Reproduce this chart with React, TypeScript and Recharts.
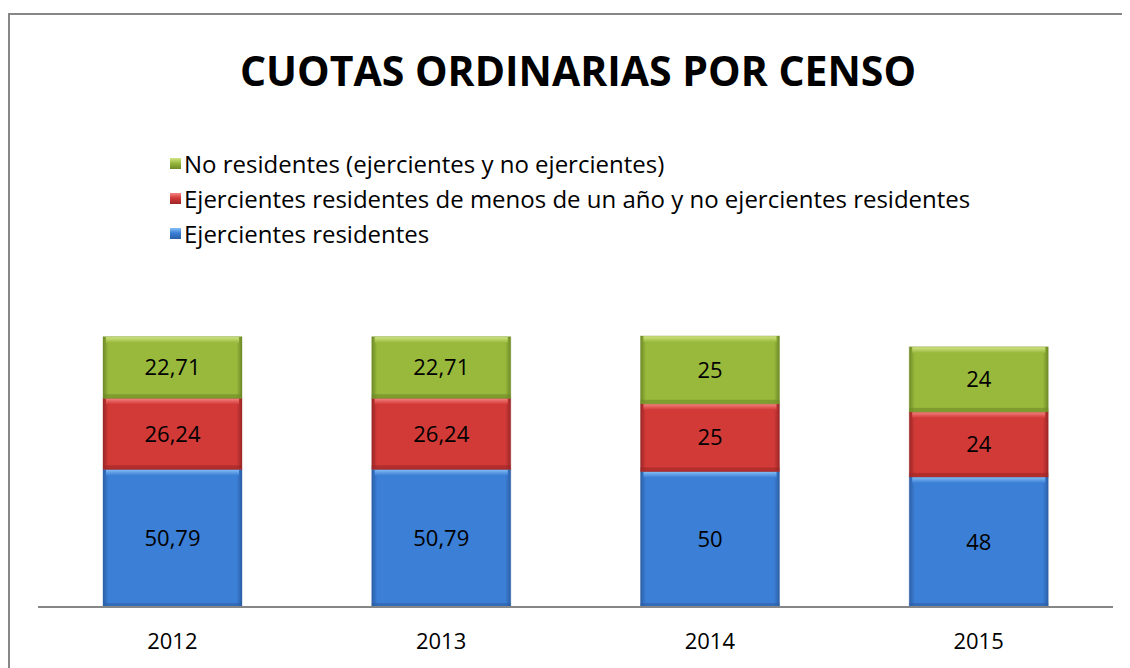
import { BarChart, Bar, XAxis, YAxis, LabelList } from 'recharts';

// Data
const years = ['2012', '2013', '2014', '2015'];
const ejercientesResidentes = [50.79, 50.79, 50, 48];
const menosDeUnAno = [26.24, 26.24, 25, 24];
const noResidentes = [22.71, 22.71, 25, 24];

const SERIES = [
  { key: 'ejr', name: 'Ejercientes residentes', main: '#3c7fd6', light: '#86c0f5', dark: '#2b5fa6' },
  { key: 'men', name: 'Ejercientes residentes de menos de un año y no ejercientes residentes', main: '#d23a38', light: '#f58580', dark: '#9b2626' },
  { key: 'nor', name: 'No residentes (ejercientes y no ejercientes)', main: '#99b93d', light: '#d2e685', dark: '#6e8a26' },
];

const data = years.map((year, i) => ({
  year,
  ejr: ejercientesResidentes[i],
  men: menosDeUnAno[i],
  nor: noResidentes[i],
}));

const FONT = '"Open Sans", sans-serif';

const fmt = (v: number) => String(v).replace('.', ',');

function bevelShape(s: typeof SERIES[number]) {
  return (props: any) => {
    const { x, y, width, height } = props;
    if (!height || height <= 0) return <g />;
    return (
      <g>
        <rect x={x} y={y} width={width} height={height} fill={`url(#h-${s.key})`} />
        <rect x={x + 3} y={y} width={width - 6} height={6} fill={`url(#t-${s.key})`} />
        <rect x={x} y={y + height - 4} width={width} height={4} fill={s.dark} opacity={0.6} />
        <rect x={x} y={y} width={width} height={height} fill="none" stroke={s.dark} strokeOpacity={0.35} />
      </g>
    );
  };
}

const YearTick = (props: any) => {
  const { x, y, payload } = props;
  return (
    <text x={x} y={y + 34} textAnchor="middle" fontSize={22} fontFamily={FONT} fill="#000">
      {payload.value}
    </text>
  );
};

const legendOrder = [...SERIES].reverse();

export default function App() {
  return (
    <div style={{ paddingTop: 5 }}>
      <div
        style={{
          position: 'relative',
          width: 1130,
          height: 670,
          border: '2px solid #878787',
          boxSizing: 'border-box',
          background: '#fff',
          fontFamily: FONT,
        }}
      >
        <div
          style={{
            position: 'absolute',
            left: 0,
            width: 1136,
            top: 27,
            textAlign: 'center',
            fontSize: 41,
            fontWeight: 700,
            color: '#000',
          }}
        >
          CUOTAS ORDINARIAS POR CENSO
        </div>
        {legendOrder.map((s, i) => (
          <div
            key={s.key}
            style={{
              position: 'absolute',
              left: 160,
              top: 132 + i * 35,
              display: 'flex',
              alignItems: 'center',
              fontSize: 24,
              color: '#000',
              whiteSpace: 'nowrap',
            }}
          >
            <span
              style={{
                display: 'inline-block',
                width: 11,
                height: 11,
                marginRight: 3,
                background: `linear-gradient(${s.light}, ${s.main} 45%, ${s.dark})`,
              }}
            />
            {s.name}
          </div>
        ))}
        <div style={{ position: 'absolute', left: 0, top: 0 }}>
          <BarChart
            width={1120}
            height={650}
            data={data}
            margin={{ top: 321, right: 17, left: 28, bottom: 18 }}
          >
            <defs>
              {SERIES.map((s) => (
                <linearGradient key={`h-${s.key}`} id={`h-${s.key}`} x1="0" y1="0" x2="1" y2="0">
                  <stop offset="0%" stopColor={s.dark} />
                  <stop offset="4%" stopColor={s.main} />
                  <stop offset="96%" stopColor={s.main} />
                  <stop offset="100%" stopColor={s.dark} />
                </linearGradient>
              ))}
              {SERIES.map((s) => (
                <linearGradient key={`t-${s.key}`} id={`t-${s.key}`} x1="0" y1="0" x2="0" y2="1">
                  <stop offset="0%" stopColor={s.light} />
                  <stop offset="100%" stopColor={s.main} />
                </linearGradient>
              ))}
            </defs>
            <XAxis
              dataKey="year"
              height={40}
              tickLine={false}
              axisLine={{ stroke: '#868686', strokeWidth: 2 }}
              tick={<YearTick />}
              interval={0}
            />
            <YAxis hide domain={[0, 100]} />
            {SERIES.map((s) => (
              <Bar
                key={s.key}
                dataKey={s.key}
                stackId="a"
                barSize={139}
                fill={s.main}
                shape={bevelShape(s)}
                isAnimationActive={false}
              >
                <LabelList
                  dataKey={s.key}
                  position="center"
                  formatter={(v: any) => fmt(Number(v))}
                  style={{ fontSize: 22, fontFamily: FONT, fill: '#000' }}
                />
              </Bar>
            ))}
          </BarChart>
        </div>
      </div>
    </div>
  );
}
